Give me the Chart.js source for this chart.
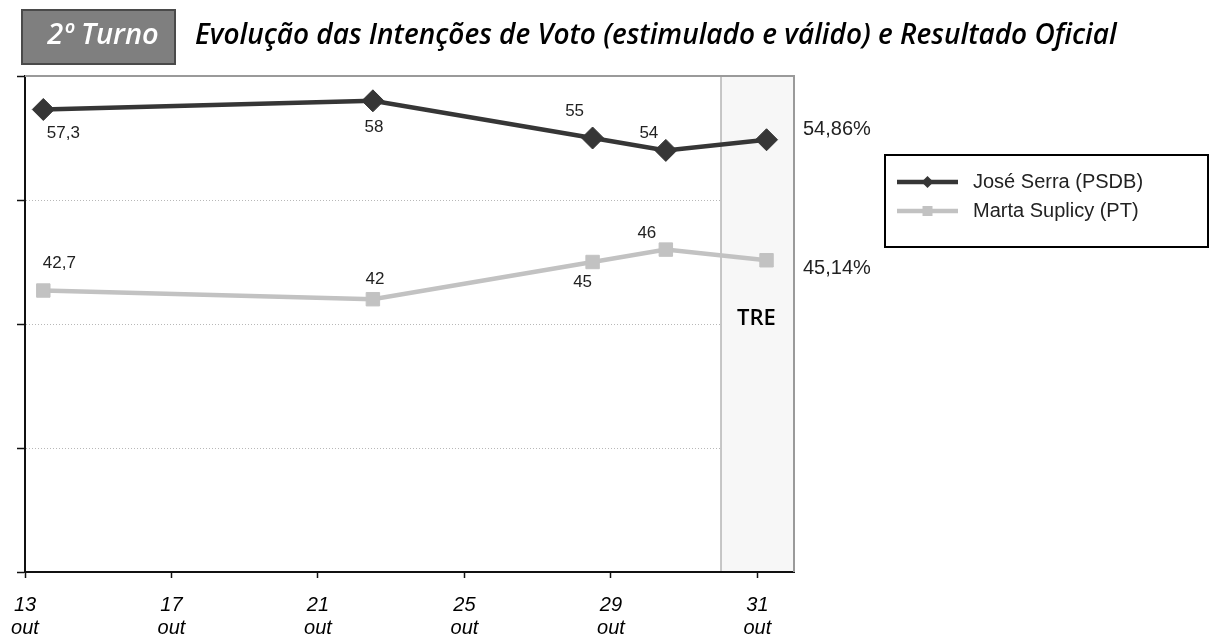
<!DOCTYPE html>
<html><head><meta charset="utf-8">
<script src="https://cdn.jsdelivr.net/npm/chart.js@4"></script>
<style>html,body{margin:0;padding:0;background:#fff;overflow:hidden}canvas{display:block}</style>
</head><body>
<canvas id="c" width="1214" height="635"></canvas>
<script>
// ---- data ----
const titleBoxText = '2º Turno';
const titleText = 'Evolução das Intenções de Voto (estimulado e válido) e Resultado Oficial';
const seriesNames = ['José Serra (PSDB)', 'Marta Suplicy (PT)'];
const pollDays = [13.5, 22.5, 28.5, 30.5, 33.25];
const serraValues = [57.3, 58, 55, 54, 54.86];
const martaValues = [42.7, 42, 45, 46, 45.14];
const tickDays = [13, 17, 21, 25, 29, 33];
const tickLabels = [['13','out'],['17','out'],['21','out'],['25','out'],['29','out'],['31','out']];
const officialLabel = 'TRE';
const officialStartDay = 32;

// ---- styles ----
const SERRA = '#363636', MARTA = '#c2c2c2';
const labelOffsets = [
  [[20,24],[1,27],[-18,-27],[-17,-17]],
  [[16,-27],[2,-20],[-10,20],[-19,-16]]
];
const sideOffsets = [-10, 8];

function fmt(v, d){ return (d===undefined? String(v) : v.toFixed(d)).replace('.', ','); }

const decor = {
  id: 'decor',
  beforeDraw(chart){
    const ctx = chart.ctx;
    ctx.save();
    ctx.fillStyle = '#fff';
    ctx.fillRect(0,0,chart.width,chart.height);
    // title
    let fs = 25;
    ctx.font = `italic 600 ${fs}px "Open Sans"`;
    const w = ctx.measureText(titleText).width;
    fs = fs * 922 / w;
    ctx.font = `italic 600 ${fs}px "Open Sans"`;
    ctx.fillStyle = '#000';
    ctx.textBaseline = 'alphabetic';
    ctx.textAlign = 'left';
    ctx.fillText(titleText, 195, 44);
    // box
    ctx.fillStyle = '#7f7f7f';
    ctx.fillRect(22, 10, 153, 54);
    ctx.strokeStyle = '#4a4a4a';
    ctx.lineWidth = 2;
    ctx.strokeRect(22, 10, 153, 54);
    ctx.fillStyle = '#fff';
    ctx.textAlign = 'center';
    ctx.font = `italic 600 ${fs + 1}px "Open Sans"`;
    ctx.fillText(titleBoxText, 103, 44);
    ctx.restore();
  },
  beforeDatasetsDraw(chart){
    const {ctx, chartArea:a, scales:{x}} = chart;
    ctx.save();
    const xs = Math.round(x.getPixelForValue(officialStartDay));
    ctx.fillStyle = '#f7f7f7';
    ctx.fillRect(xs, a.top, a.right - xs, a.bottom - a.top - 1);
    ctx.strokeStyle = '#b4b4b4';
    ctx.lineWidth = 1.5;
    ctx.beginPath(); ctx.moveTo(xs, a.top); ctx.lineTo(xs, a.bottom-1); ctx.stroke();
    // frame top/right
    ctx.strokeStyle = '#9a9a9a';
    ctx.lineWidth = 2;
    ctx.beginPath();
    ctx.moveTo(a.left, a.top); ctx.lineTo(a.right, a.top); ctx.lineTo(a.right, a.bottom);
    ctx.stroke();
    // TRE text
    ctx.fillStyle = '#000';
    ctx.font = '600 22px "Open Sans"';
    ctx.textAlign = 'center';
    ctx.textBaseline = 'middle';
    ctx.fillText(officialLabel, (xs + a.right)/2 - 1, 319);
    ctx.restore();
  },
  afterDatasetsDraw(chart){
    const {ctx, chartArea:a} = chart;
    ctx.save();
    chart.data.datasets.forEach((ds, di) => {
      const meta = chart.getDatasetMeta(di);
      ctx.fillStyle = '#222';
      ctx.font = '17px "Liberation Sans"';
      ctx.textAlign = 'center';
      ctx.textBaseline = 'middle';
      const n = ds.data.length;
      for (let i = 0; i < n - 1; i++) {
        const p = meta.data[i];
        const o = labelOffsets[di][i];
        ctx.fillText(fmt(ds.data[i].y), p.x + o[0], p.y + o[1]);
      }
      const last = meta.data[n-1];
      ctx.font = '20px "Liberation Sans"';
      ctx.textAlign = 'left';
      ctx.fillText(fmt(ds.data[n-1].y, 2) + '%', a.right + 9, last.y + sideOffsets[di]);
    });
    // legend
    ctx.strokeStyle = '#000';
    ctx.lineWidth = 2;
    ctx.strokeRect(885, 155, 323, 92);
    const rows = [182, 211];
    chart.data.datasets.forEach((ds, di) => {
      const y = rows[di];
      ctx.strokeStyle = ds.borderColor;
      ctx.lineWidth = 4.5;
      ctx.beginPath(); ctx.moveTo(897, y); ctx.lineTo(958, y); ctx.stroke();
      ctx.fillStyle = ds.pointBackgroundColor;
      const cx = 927.5;
      ctx.beginPath();
      if (ds.pointStyle === 'rectRot') {
        ctx.moveTo(cx-6, y); ctx.lineTo(cx, y-6); ctx.lineTo(cx+6, y); ctx.lineTo(cx, y+6);
      } else {
        ctx.rect(cx-5, y-5, 10, 10);
      }
      ctx.closePath(); ctx.fill();
      ctx.fillStyle = '#222';
      ctx.font = '20px "Liberation Sans"';
      ctx.textAlign = 'left';
      ctx.textBaseline = 'middle';
      ctx.fillText(ds.label, 973, y);
    });
    ctx.restore();
  }
};

const toPts = vals => pollDays.map((d, i) => ({x: d, y: vals[i]}));

new Chart(document.getElementById('c'), {
  type: 'line',
  data: {
    datasets: [
      { label: seriesNames[0], data: toPts(serraValues), borderColor: SERRA, borderWidth: 4.5,
        pointStyle: 'rectRot', pointRadius: 11, pointBackgroundColor: SERRA, pointBorderColor: SERRA,
        pointBorderWidth: 1, tension: 0 },
      { label: seriesNames[1], data: toPts(martaValues), borderColor: MARTA, borderWidth: 4.5,
        pointStyle: 'rect', pointRadius: 9.5, pointBackgroundColor: MARTA, pointBorderColor: MARTA,
        pointBorderWidth: 1, tension: 0 }
    ]
  },
  options: {
    responsive: false,
    devicePixelRatio: 1,
    animation: false,
    events: [],
    layout: { padding: { top: 76, right: 420, left: 0, bottom: 0 } },
    plugins: { legend: { display: false }, tooltip: { enabled: false }, title: { display: false } },
    scales: {
      x: {
        type: 'linear', min: 13, max: 34,
        afterBuildTicks: s => { s.ticks = tickDays.map(v => ({ value: v })); },
        afterFit: s => { s.height = 635 - 572; s.paddingLeft = 0; s.paddingRight = 0; },
        ticks: {
          callback: (v, i) => tickLabels[i],
          font: { family: 'Liberation Sans', size: 20, style: 'italic', lineHeight: 1.15 },
          color: '#000', maxRotation: 0, autoSkip: false, padding: 16
        },
        grid: { drawOnChartArea: false, drawTicks: true, tickLength: 6, tickColor: '#111', tickWidth: 1.5 },
        border: { color: '#111', width: 2 }
      },
      y: {
        min: 20, max: 60,
        afterFit: s => { s.width = 25; },
        ticks: { stepSize: 10, display: false },
        grid: {
          color: c => (c.tick && (c.tick.value === 20 || c.tick.value === 60)) ? 'rgba(0,0,0,0)' : '#b8b8b8',
          lineWidth: 1, drawTicks: true, tickLength: 8, tickColor: '#111', tickWidth: 1.5
        },
        border: { color: '#111', width: 2, dash: [1, 2] }
      }
    }
  },
  plugins: [decor]
});
</script>
</body></html>
